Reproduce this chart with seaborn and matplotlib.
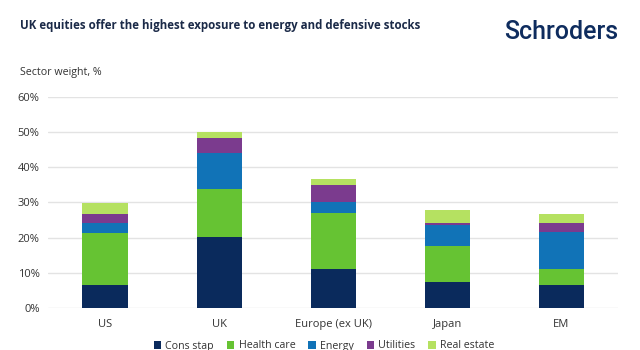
import matplotlib
matplotlib.use("Agg")
import matplotlib.pyplot as plt
from matplotlib.patches import Patch
from matplotlib.ticker import FuncFormatter
import numpy as np
import seaborn as sns

regions = ["US", "UK", "Europe (ex UK)", "Japan", "EM"]
sectors = ["Cons stap", "Health care", "Energy", "Utilities", "Real estate"]
cons_stap = [6.6, 20.3, 11.0, 7.5, 6.6]
health_care = [14.6, 13.4, 15.9, 10.1, 4.4]
energy = [2.9, 10.5, 3.1, 6.0, 10.5]
utilities = [2.6, 4.1, 5.0, 0.6, 2.6]
real_estate = [3.2, 1.6, 1.8, 3.7, 2.5]
yticks = [0, 10, 20, 30, 40, 50, 60]

colors = ["#0a2a5c", "#66c333", "#1173b7", "#7b3b8e", "#b5e161"]
series = [cons_stap, health_care, energy, utilities, real_estate]

sns.set_theme(style="white")
plt.rcParams["font.family"] = ["Open Sans", "DejaVu Sans"]

fig = plt.figure(figsize=(6.4, 3.5), dpi=100)
ax = fig.add_axes([0.075, 0.12, 0.891, 0.603])

bottom = np.zeros(len(regions))
for vals, col in zip(series, colors):
    sns.barplot(x=regions, y=vals, bottom=bottom, color=col, width=0.395,
                saturation=1, ax=ax, linewidth=0, zorder=3)
    bottom = bottom + np.array(vals)

ax.set_ylim(0, 60)
ax.set_xlim(-0.5, 4.5)
ax.set_yticks(yticks)
ax.yaxis.set_major_formatter(FuncFormatter(lambda v, p: f"{v:.0f}%"))
ax.grid(axis="y", color="#e3e3e3", linewidth=1, zorder=0)
ax.grid(axis="x", visible=False)
for s in ax.spines.values():
    s.set_visible(False)
ax.tick_params(axis="y", length=0, pad=6, labelsize=8, labelcolor="#333333")
ax.tick_params(axis="x", length=0, pad=8, labelsize=8, labelcolor="#333333")
ax.set_xlabel("")
ax.set_ylabel("")

fig.text(20/640, 1 - 25/350, "UK equities offer the highest exposure to energy and defensive stocks",
         fontsize=8.3, fontweight="bold", color="#1b2a48", va="center", ha="left")
fig.text(618/640, 1 - 32/350, "Schroders", fontsize=18, fontweight="medium",
         family=["Roboto", "Open Sans", "DejaVu Sans"],
         color="#0e2c5e", va="center", ha="right")
fig.text(20/640, 1 - 73/350, "Sector weight, %", fontsize=7.7, color="#333333",
         va="center", ha="left")

handles = [Patch(facecolor=c, edgecolor="none", label=l) for c, l in zip(colors, sectors)]
fig.legend(handles=handles, loc="center", bbox_to_anchor=(324/640, 1 - 346/350), ncol=5,
           frameon=False, fontsize=7.7, handlelength=0.7, handleheight=0.7,
           handletextpad=0.4, columnspacing=1.2, labelcolor="#333333")

fig.savefig("out.png", dpi=100)
